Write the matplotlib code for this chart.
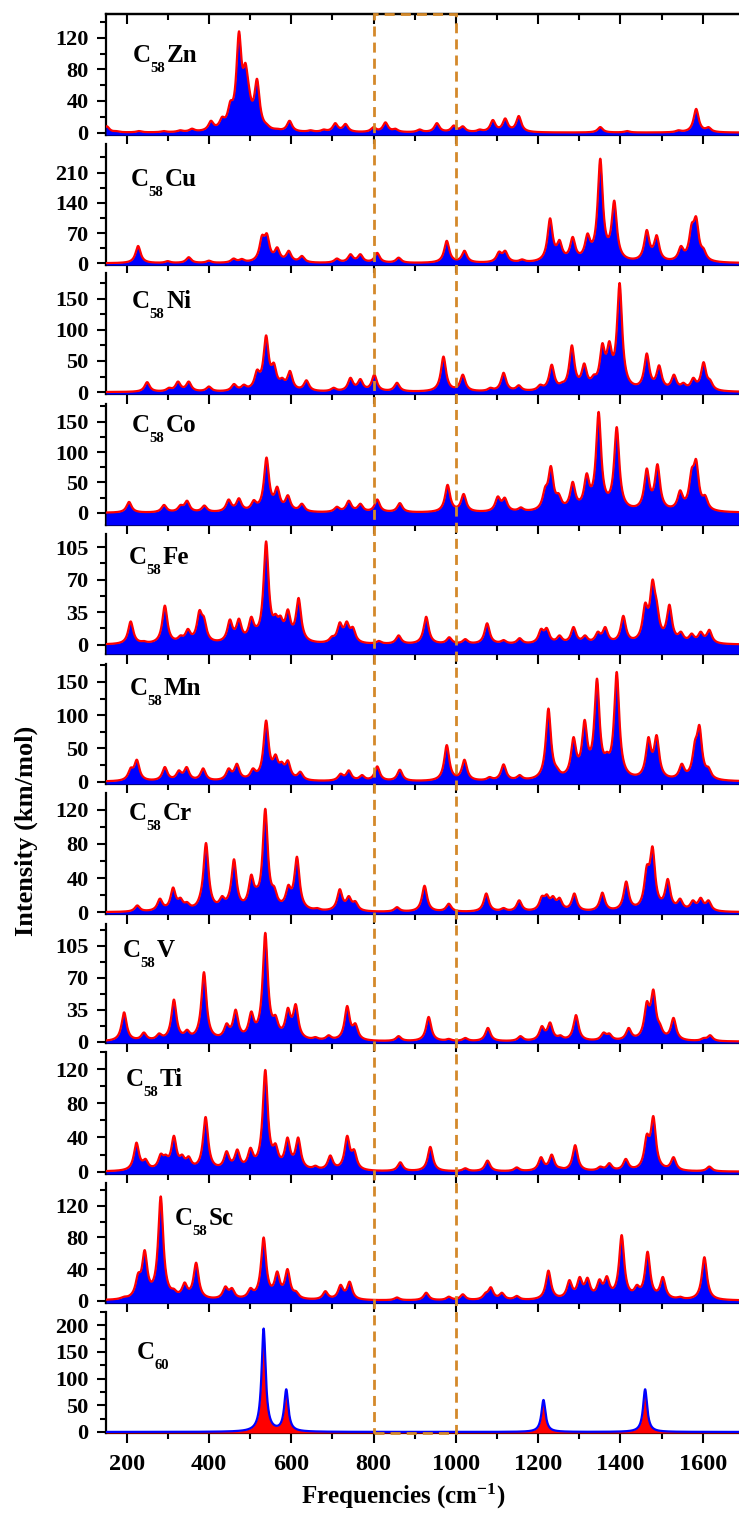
'''plot.py  IR spectra of C58M endohedral/substituted fullerenes vs C60.'''

import numpy as np
import matplotlib
matplotlib.use('Agg')
import matplotlib.pyplot as plt
from matplotlib.ticker import MultipleLocator, FixedLocator
from matplotlib.patches import Rectangle
from matplotlib.transforms import offset_copy

plt.rcParams['font.family'] = ['Liberation Serif', 'DejaVu Serif']
plt.rcParams['font.weight'] = 'bold'
plt.rcParams['mathtext.fontset'] = 'custom'
plt.rcParams['mathtext.rm'] = 'Liberation Serif:bold'
plt.rcParams['mathtext.bf'] = 'Liberation Serif:bold'
plt.rcParams['mathtext.default'] = 'bf'

# peak positions (cm-1) and apparent heights (km/mol)
zn_pos = [152, 175, 230, 290, 330, 359, 405, 432, 452, 473, 489, 497, 517, 541, 566, 596,
          647, 679, 707, 732, 800, 829, 853, 912, 954, 995, 1017, 1058, 1090, 1120, 1153,
          1351, 1416, 1541, 1584, 1614]
zn_amp = [8, 2, 2, 2, 3, 5, 15, 20, 40, 128, 88, 60, 68, 11, 5, 15,
          3, 4, 12, 11, 7, 13, 5, 4, 12, 9, 8, 4, 16, 18, 21,
          7, 2, 3, 30, 7]

cu_pos = [228, 300, 351, 400, 460, 480, 529, 541, 566, 594, 626, 711, 744, 768, 809, 861,
          978, 1021, 1105, 1120, 1161, 1229, 1252, 1284, 1320, 1351, 1385, 1464, 1488,
          1547, 1573, 1584, 1602]
cu_amp = [40, 5, 14, 6, 11, 10, 65, 69, 37, 29, 17, 11, 21, 21, 24, 13,
          52, 29, 27, 29, 9, 104, 54, 61, 69, 242, 145, 77, 65,
          40, 92, 108, 35]

ni_pos = [250, 303, 325, 351, 400, 461, 485, 517, 539, 558, 578, 597, 637, 703, 744, 768,
          802, 857, 970, 1017, 1084, 1116, 1153, 1205, 1233, 1258, 1282, 1312, 1335, 1356,
          1373, 1383, 1398, 1464, 1494, 1530, 1553, 1577, 1602, 1618]
ni_amp = [16, 7, 17, 17, 9, 13, 12, 36, 91, 47, 23, 34, 19, 7, 23, 21,
          28, 15, 57, 28, 7, 31, 11, 12, 44, 16, 75, 46, 28, 78,
          80, 55, 174, 62, 43, 28, 15, 23, 48, 20]

co_pos = [206, 291, 331, 347, 389, 448, 473, 509, 540, 566, 592, 626, 711, 740, 768, 809,
          864, 980, 1019, 1102, 1119, 1158, 1217, 1231, 1250, 1284, 1318, 1347, 1391,
          1464, 1490, 1545, 1573, 1584, 1606]
co_amp = [18, 13, 13, 20, 12, 22, 24, 21, 91, 43, 29, 15, 10, 20, 15, 22,
          16, 46, 31, 27, 25, 9, 43, 77, 32, 51, 65, 166, 141,
          73, 80, 37, 73, 88, 29]

fe_pos = [210, 242, 293, 331, 349, 377, 388, 428, 451, 473, 503, 515, 539, 562, 574, 592,
          606, 618, 699, 718, 735, 750, 813, 861, 928, 984, 1023, 1076, 1116, 1155, 1207,
          1221, 1252, 1286, 1314, 1345, 1363, 1407, 1460, 1478, 1488, 1519, 1547, 1573,
          1595, 1616]
fe_amp = [25, 4, 42, 10, 17, 37, 30, 4, 27, 28, 30, 20, 111, 33, 31, 37,
          18, 49, 9, 24, 25, 19, 4, 10, 30, 8, 6, 23, 5, 7, 17,
          18, 10, 19, 10, 14, 19, 31, 45, 70, 48, 43, 14, 12,
          14, 16]

mn_pos = [210, 225, 293, 327, 346, 386, 448, 468, 507, 539, 562, 577, 592, 622, 720, 740,
          772, 809, 864, 978, 1021, 1082, 1116, 1155, 1225, 1246, 1286, 1313, 1343, 1367,
          1391, 1468, 1488, 1549, 1581, 1592, 1614]
mn_amp = [21, 33, 22, 17, 22, 20, 20, 27, 20, 92, 41, 30, 32, 15, 12, 17,
          10, 23, 18, 55, 33, 7, 26, 10, 110, 22, 67, 93, 155, 45,
          165, 67, 70, 27, 62, 85, 22]

cr_pos = [226, 281, 313, 331, 347, 380, 393, 432, 448, 461, 503, 516, 537, 559, 593, 614,
          663, 718, 740, 756, 857, 924, 983, 1074, 1116, 1154, 1209, 1221, 1236, 1252,
          1288, 1356, 1414, 1464, 1478, 1515, 1545, 1576, 1595, 1614]
cr_amp = [8, 16, 29, 17, 12, 24, 81, 19, 21, 62, 44, 30, 121, 30, 32, 65,
          5, 27, 19, 13, 6, 31, 10, 22, 5, 14, 19, 21, 19, 17,
          22, 23, 36, 55, 77, 39, 16, 14, 17, 14]

v_pos = [194, 242, 279, 299, 315, 347, 388, 443, 465, 503, 537, 562, 592, 611, 659, 691,
         736, 756, 861, 934, 983, 1023, 1078, 1157, 1209, 1229, 1254, 1292, 1359, 1373,
         1420, 1464, 1480, 1496, 1529, 1602, 1618]
v_amp = [32, 10, 9, 10, 46, 13, 76, 20, 35, 33, 119, 29, 37, 41, 5, 7,
         39, 20, 6, 27, 3, 4, 15, 6, 17, 21, 7, 29, 10, 9,
         15, 44, 57, 20, 26, 4, 7]

ti_pos = [224, 246, 283, 295, 315, 335, 351, 392, 443, 469, 501, 537, 562, 591, 617, 659,
          695, 736, 753, 865, 938, 1023, 1077, 1148, 1207, 1233, 1254, 1290, 1351, 1373,
          1413, 1464, 1480, 1529, 1616]
ti_amp = [34, 15, 21, 20, 42, 20, 18, 64, 24, 26, 28, 119, 33, 40, 40, 7,
          19, 42, 26, 11, 29, 4, 13, 5, 17, 20, 5, 31, 6, 10,
          15, 44, 65, 17, 6]

sc_pos = [193, 228, 244, 283, 315, 341, 369, 392, 440, 456, 501, 533, 566, 591, 612, 683,
          720, 742, 857, 928, 983, 1017, 1072, 1085, 1112, 1148, 1225, 1276, 1301, 1320,
          1349, 1367, 1403, 1440, 1466, 1503, 1545, 1604]
sc_amp = [5, 35, 64, 132, 15, 23, 48, 6, 18, 16, 16, 80, 37, 40, 12, 12,
          20, 24, 4, 10, 5, 8, 10, 17, 10, 6, 38, 26, 30, 29,
          27, 31, 83, 20, 62, 30, 5, 55]

c60_pos = [533, 588, 1213, 1460]
c60_amp = [194, 80, 60, 80]

names = ['Zn', 'Cu', 'Ni', 'Co', 'Fe', 'Mn', 'Cr', 'V', 'Ti', 'Sc', '']
peaks = [(zn_pos, zn_amp), (cu_pos, cu_amp), (ni_pos, ni_amp), (co_pos, co_amp),
         (fe_pos, fe_amp), (mn_pos, mn_amp), (cr_pos, cr_amp), (v_pos, v_amp),
         (ti_pos, ti_amp), (sc_pos, sc_amp), (c60_pos, c60_amp)]
yticks = [[0, 40, 80, 120], [0, 70, 140, 210], [0, 50, 100, 150], [0, 50, 100, 150],
          [0, 35, 70, 105], [0, 50, 100, 150], [0, 40, 80, 120], [0, 35, 70, 105],
          [0, 40, 80, 120], [0, 40, 80, 120], [0, 50, 100, 150, 200]]
ylims = [(-3, 150), (-4, 276), (-3, 191), (-20, 179), (-10, 119), (-3.5, 177),
         (-2, 139.5), (-1.5, 128.7), (-2.7, 140), (-3, 149), (-2, 225)]

# layout in pixels of the 739x1514 picture
W, H = 739, 1514
tops = [14, 144, 273, 404, 534, 664, 793, 924, 1052, 1183, 1312]
bots = [135, 265, 394, 525, 654, 784, 914, 1043, 1174, 1303, 1433]
lab_xy = [(133, 62), (131, 186), (132, 308), (132, 432), (129, 564), (130, 695),
          (129, 820), (123, 957), (126, 1086), (175, 1225), (137, 1359)]
X0, X1 = 106, 743.9

x = np.linspace(150, 1700, 3101)


def lorentz(d, g):
    return g ** 2 / (d ** 2 + g ** 2)


def spectrum(pos, amp, fwhm):
    p = np.array(pos, float)
    h = np.array(amp, float)
    g = fwhm / 2
    K = lorentz(p[:, None] - p[None, :], g)
    a = np.clip(np.linalg.solve(K, h), 0, None)
    return (a[None, :] * lorentz(x[:, None] - p[None, :], g)).sum(axis=1)


fig = plt.figure(figsize=(W / 100, H / 100), dpi=100)
axes = []
for i in range(11):
    ax = fig.add_axes([X0 / W, 1 - bots[i] / H, (X1 - X0) / W, (bots[i] - tops[i]) / H])
    axes.append(ax)
    y = spectrum(*peaks[i], fwhm=15.0 if i < 10 else 12.0)
    lo, hi = ylims[i]
    if i < 10:
        fc, lc = '#0000FF', '#FF0000'
    else:
        fc, lc = '#FF0000', '#0000FF'
    ax.fill_between(x, y, lo, color=fc, lw=0, zorder=3)
    ax.plot(x, y, color=lc, lw=1.6, zorder=4)
    ax.set_xlim(150, 1700)
    ax.set_ylim(lo, hi)
    ax.yaxis.set_major_locator(FixedLocator(yticks[i]))
    step = yticks[i][1] / 2
    ax.yaxis.set_minor_locator(MultipleLocator(step))
    ax.xaxis.set_major_locator(MultipleLocator(200))
    ax.xaxis.set_minor_locator(MultipleLocator(100))
    ax.spines['right'].set_visible(False)
    ax.spines['top'].set_visible(i == 0)
    for s in ['left', 'bottom', 'top']:
        ax.spines[s].set_linewidth(1.6)
    ax.tick_params(axis='y', which='major', direction='out', length=6.5, width=1.5,
                   labelsize=16, pad=6)
    ax.tick_params(axis='y', which='minor', direction='out', length=4, width=1.5)
    ax.tick_params(axis='x', which='major', direction='out', length=7, width=1.5,
                   labelsize=17.5, pad=8, labelbottom=(i == 10))
    ax.tick_params(axis='x', which='minor', direction='out', length=4, width=1.5)
    if i == 0:
        sec = ax.secondary_xaxis('top')
        sec.xaxis.set_major_locator(MultipleLocator(200))
        sec.xaxis.set_minor_locator(MultipleLocator(100))
        sec.tick_params(which='major', direction='in', length=7, width=1.5, labeltop=False)
        sec.tick_params(which='minor', direction='in', length=4, width=1.5)
        sec.spines['top'].set_linewidth(1.6)

    # panel label C58M
    lx, ly = lab_xy[i]
    fx, fy = lx / W, 1 - ly / H
    fig.text(fx, fy, 'C', fontsize=18, va='baseline', ha='left')
    sub = '58' if i < 10 else '60'
    tr = offset_copy(fig.transFigure, fig=fig, x=12.5, y=-7.3, units='points')
    fig.text(fx, fy, sub, fontsize=10.5, va='baseline', ha='left', transform=tr)
    if names[i]:
        tr2 = offset_copy(fig.transFigure, fig=fig, x=24.5, y=0, units='points')
        fig.text(fx, fy, names[i], fontsize=18, va='baseline', ha='left', transform=tr2)

fig.text(26 / W, 1 - 831 / H, 'Intensity (km/mol)', rotation=90, ha='center',
         va='center', fontsize=19)
fig.text(403 / W, 1 - 1504 / H, r'Frequencies (cm$^{-1}$)', ha='center',
         va='baseline', fontsize=18)

# dashed box 800-1000 cm-1 across all panels
inv = fig.transFigure.inverted()
xa = inv.transform(axes[0].transData.transform((800, 0)))[0]
xb = inv.transform(axes[0].transData.transform((1000, 0)))[0]
ya = 1 - bots[-1] / H
yb = 1 - tops[0] / H
fig.patches.append(Rectangle((xa, ya), xb - xa, yb - ya, transform=fig.transFigure,
                             fill=False, ec='#D4892A', lw=2.0, ls=(0, (3.6, 2.2)),
                             zorder=10))

fig.savefig('out.png', dpi=100)
